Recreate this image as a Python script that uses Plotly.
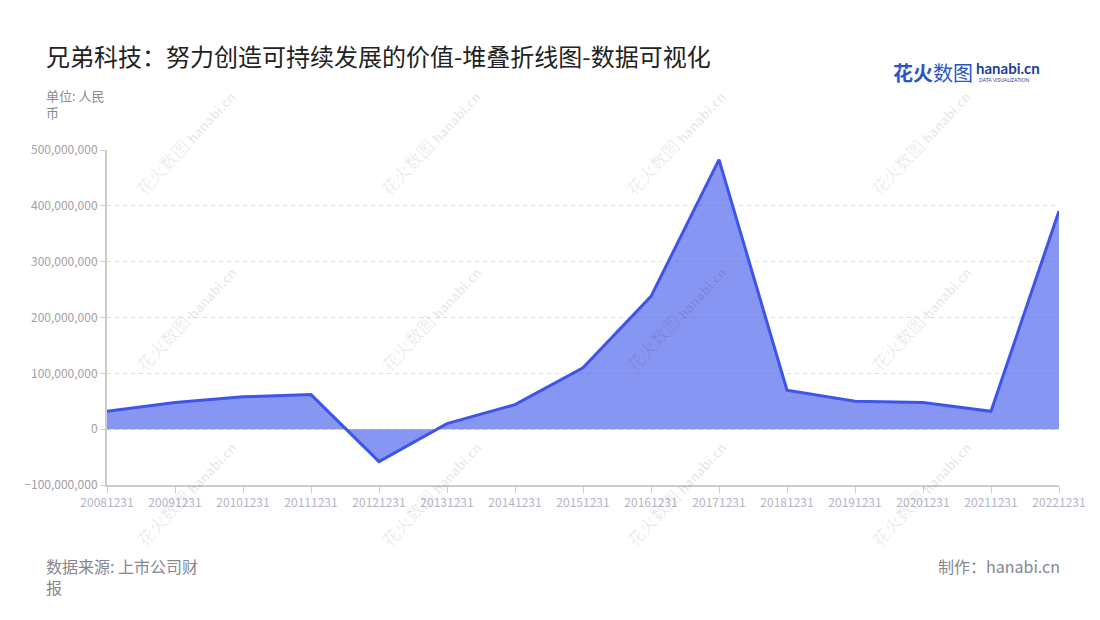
import plotly.graph_objects as go

# ---- data ----
dates = ["20081231", "20091231", "20101231", "20111231", "20121231", "20131231",
         "20141231", "20151231", "20161231", "20171231", "20181231", "20191231",
         "20201231", "20211231", "20221231"]
values = [32e6, 48e6, 58e6, 62e6, -58e6, 10e6,
          44e6, 110e6, 238e6, 483e6, 70e6, 50e6,
          48e6, 32e6, 391e6]
y_ticks = [-100e6, 0, 100e6, 200e6, 300e6, 400e6, 500e6]
title_text = "兄弟科技：努力创造可持续发展的价值-堆叠折线图-数据可视化"
unit_text = "单位: 人民<br>币"
source_text = "数据来源: 上市公司财<br>报"
maker_text = "制作：hanabi.cn"

W, H = 1100, 620
OFF = 8  # page body margin
L, R, T, B = 107, 1059, 150, 485
FONT = "Noto Sans CJK SC"


def px(x):
    return (x - L) / (R - L)


def py(y):
    return (B - y) / (B - T)


fig = go.Figure()
fig.add_trace(go.Scatter(
    x=dates, y=values, mode="lines",
    line=dict(color="#3d55ea", width=3),
    fill="tozeroy", fillcolor="rgba(60,84,236,0.61)",
    hoverinfo="x+y", showlegend=False,
))

annotations = []
# watermarks
for cx in [185, 430, 675, 920]:
    for cy in [143, 318, 493]:
        annotations.append(dict(
            x=px(cx), y=py(cy), xref="paper", yref="paper",
            xanchor="center", yanchor="middle",
            text="花火数图 <b><span style='font-size:13px'>hanabi.cn</span></b>",
            showarrow=False, textangle=-47,
            font=dict(family=FONT, size=17, color="rgba(0,0,0,0.09)"),
        ))

annotations += [
    dict(x=px(44), y=py(55), xref="paper", yref="paper", xanchor="left", yanchor="middle",
         text=title_text, showarrow=False,
         font=dict(family=FONT, size=24, color="#222222")),
    dict(x=px(44), y=py(84), xref="paper", yref="paper", xanchor="left", yanchor="top",
         text=unit_text, showarrow=False, align="left",
         font=dict(family=FONT, size=13, color="#8a8a92")),
    dict(x=px(44), y=py(552), xref="paper", yref="paper", xanchor="left", yanchor="top",
         text=source_text, showarrow=False, align="left",
         font=dict(family=FONT, size=16, color="#86868f")),
    dict(x=px(1062), y=py(566), xref="paper", yref="paper", xanchor="right", yanchor="middle",
         text=maker_text, showarrow=False,
         font=dict(family=FONT, size=16, color="#86868f")),
    # logo
    dict(x=px(891), y=py(72), xref="paper", yref="paper", xanchor="left", yanchor="middle",
         text="<b>花火</b>数图", showarrow=False,
         font=dict(family=FONT, size=20, color="#2a55c9")),
    dict(x=px(974), y=py(68), xref="paper", yref="paper", xanchor="left", yanchor="middle",
         text="<b>hanabi.cn</b>", showarrow=False,
         font=dict(family="Lato", size=15, color="#1d3f95")),
    dict(x=px(977), y=py(80), xref="paper", yref="paper", xanchor="left", yanchor="middle",
         text="DATA VISUALIZATION", showarrow=False,
         font=dict(family="Lato", size=5, color="#1d3f95")),
]

fig.update_layout(
    width=W, height=H,
    margin=dict(l=L - OFF, r=W - R + OFF, t=T - OFF, b=H - B + OFF, pad=0),
    paper_bgcolor="white", plot_bgcolor="white",
    font=dict(family=FONT),
    annotations=annotations,
    xaxis=dict(
        type="category", range=[0, len(dates) - 1],
        showgrid=False, zeroline=False,
        showline=True, linecolor="#cccccc", linewidth=2,
        ticks="outside", ticklen=6, tickcolor="#cccccc", tickwidth=1,
        tickfont=dict(family=FONT, size=12, color="#b0b5c4"),
    ),
    yaxis=dict(
        range=[-100e6, 500.3e6], tickvals=y_ticks, tickformat=",.0f",
        showgrid=True, gridcolor="#dddddd", griddash="4px,4px", gridwidth=1,
        zeroline=False,
        showline=True, linecolor="#cccccc", linewidth=2,
        ticks="outside", ticklen=5, tickcolor="#cccccc",
        tickfont=dict(family=FONT, size=12, color="#a0a0a8"),
    ),
)

fig.write_html("out.html")
